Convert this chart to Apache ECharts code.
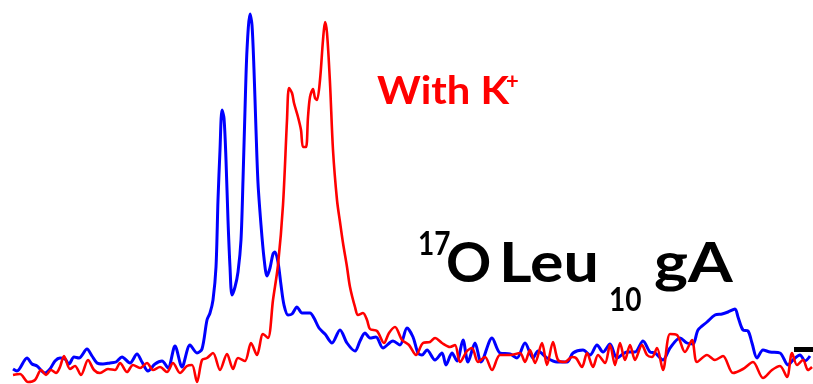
<!DOCTYPE html>
<html>
<head>
<meta charset="utf-8">
<script src="https://cdn.jsdelivr.net/npm/echarts@6/dist/echarts.min.js"></script>
<style>
  html, body { margin: 0; padding: 0; background: #fff; }
  #chart { width: 813px; height: 384px; }
</style>
</head>
<body>
<div id="chart"></div>
<script>
// 17O NMR spectra: without K+ (blue) and with K+ (red); x in channel units, y in intensity units
const blueX = [13,17,27,32,37,45,50,55,60,65,69,74,79,87,92,97,103,110,116,122,130,137,142,148,155,162,168,175,182,190,197,202,207,210,213,216,218,220,222,224,226,228,230,232,235,238,241,243,245,247,250,252,254,256,258,261,264,267,270,273,275,278,281,284,288,292,297,302,306,310,314,319,325,332,340,347,355,360,365,370,376,383,393,400,407,413,418,422,427,435,442,446,452,457,463,468,475,481,492,500,510,517,525,533,538,547,557,567,573,583,590,597,603,610,617,627,635,643,650,655,663,670,680,687,693,698,707,715,722,728,735,738,743,748,752,757,763,770,780,788,793,800,805,810];
const blueY = [15,13,26,20,18,11,15,23,26,25,20,27,26,35,28,21,20,21,22,27,21,30,22,13,20,23,16,38,17,39,31,35,64,71,84,117,184,234,274,266,224,164,117,89,97,112,144,204,274,334,370,359,314,254,201,159,126,108,116,130,132,122,99,79,69,70,77,71,71,71,66,56,50,41,54,41,33,43,51,46,47,36,43,39,56,47,31,29,34,24,31,19,31,23,44,22,41,22,46,31,30,26,41,26,33,26,22,22,31,34,29,39,32,40,26,32,32,43,32,31,24,36,46,41,40,54,62,69,70,72,75,67,54,53,41,26,34,32,31,19,24,29,23,28];

const redX = [13,20,28,35,41,46,51,56,60,64,70,75,81,88,94,100,108,115,120,127,133,140,147,153,160,167,173,180,187,192,197,202,207,213,220,227,233,238,245,251,257,263,268,273,278,283,287,289,292,294,298,301,303,306,308,310,313,315,317,320,323,325,327,330,333,337,340,343,347,350,355,358,363,367,370,377,384,389,395,402,409,416,423,430,435,442,450,455,460,467,472,478,485,492,500,510,520,525,530,535,542,547,553,558,565,572,576,582,587,593,598,605,610,615,620,625,630,635,642,647,652,657,663,670,677,685,692,697,707,715,723,733,743,753,763,772,780,787,792,797,803,808,812];
const redY = [9,10,2,4,14,9,14,11,17,28,15,18,9,24,14,11,15,14,21,12,19,16,21,14,17,12,21,11,18,19,2,24,26,31,14,30,15,26,23,41,29,50,46,84,119,179,264,296,291,281,267,254,237,237,267,287,295,286,284,304,344,362,351,301,234,184,162,141,117,97,77,69,71,64,55,53,41,51,57,44,39,29,41,42,46,41,37,39,22,33,36,22,27,14,29,29,31,22,34,21,41,19,42,24,22,27,26,17,31,17,29,21,39,19,41,24,39,24,39,29,27,36,14,50,49,32,44,22,29,24,28,11,15,22,6,14,18,7,31,19,24,14,17];

// short scale bar at the right edge
const barX = [794, 813];
const barY = [34.5, 34.5];

const zip = (xs, ys) => xs.map((x, i) => [x, ys[i]]);

const FONT = 'Lato';
// one text run, placed by its top-left corner and optionally widened
function label(x, y, text, size, color, scaleX) {
  return {
    type: 'text', x: x, y: y, scaleX: scaleX || 1, scaleY: 1,
    style: { text: text, x: 0, y: 0, font: 'bold ' + size + 'px ' + FONT, fill: color, verticalAlign: 'top', align: 'left' }
  };
}

const chart = echarts.init(document.getElementById('chart'), null, { renderer: 'canvas' });

chart.setOption({
  animation: false,
  backgroundColor: '#ffffff',
  grid: { left: 0, right: 0, top: 0, bottom: 0 },
  xAxis: { type: 'value', min: 0, max: 813, show: false },
  yAxis: { type: 'value', min: 0, max: 384, show: false },
  series: [
    {
      name: 'no K+', type: 'line', data: zip(blueX, blueY), showSymbol: false,
      smooth: 0.3, lineStyle: { color: '#0000ff', width: 3 }, z: 2
    },
    {
      name: 'With K+', type: 'line', data: zip(redX, redY), showSymbol: false,
      smooth: 0.3, lineStyle: { color: '#ff0000', width: 2.6 }, z: 3
    },
    {
      name: 'bar', type: 'line', data: zip(barX, barY), showSymbol: false,
      lineStyle: { color: '#000000', width: 5, cap: 'butt' }, z: 4
    }
  ],
  graphic: [
    label(377, 72, 'With K', 39, '#ff0000', 1.07),
    label(506, 71, '+', 22, '#ff0000', 1),
    label(418, 228, '17', 33, '#000000', 0.85),
    label(446, 236, 'O', 56, '#000000', 1),
    label(499, 236, 'Leu', 56, '#000000', 1.12),
    label(609, 284, '10', 33, '#000000', 0.85),
    label(654, 236, 'gA', 56, '#000000', 1.15)
  ]
});
</script>
</body>
</html>
